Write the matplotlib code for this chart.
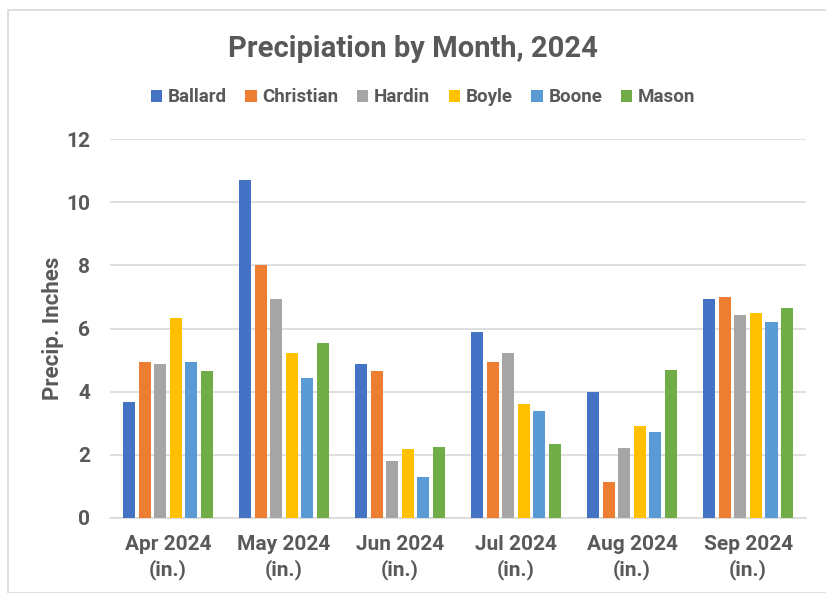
import numpy as np
import matplotlib
matplotlib.use('Agg')
import matplotlib.pyplot as plt
from matplotlib.patches import Rectangle

# Monthly precipitation by county, 2024 (inches)
months = ['Apr 2024\n(in.)', 'May 2024\n(in.)', 'Jun 2024\n(in.)',
          'Jul 2024\n(in.)', 'Aug 2024\n(in.)', 'Sep 2024\n(in.)']
ballard = [3.67, 10.70, 4.87, 5.89, 3.99, 6.93]
christian = [4.95, 8.00, 4.65, 4.94, 1.14, 7.00]
hardin = [4.87, 6.93, 1.80, 5.22, 2.22, 6.43]
boyle = [6.33, 5.22, 2.18, 3.61, 2.91, 6.49]
boone = [4.95, 4.43, 1.30, 3.39, 2.72, 6.21]
mason = [4.65, 5.54, 2.25, 2.34, 4.69, 6.65]

names = ['Ballard', 'Christian', 'Hardin', 'Boyle', 'Boone', 'Mason']
colors = ['#4472C4', '#ED7D31', '#A5A5A5', '#FFC000', '#5B9BD5', '#70AD47']
series = [ballard, christian, hardin, boyle, boone, mason]

txt = '#595959'
plt.rcParams['font.family'] = ['Roboto', 'DejaVu Sans']
plt.rcParams['font.weight'] = 'bold'
plt.rcParams['axes.labelweight'] = 'bold'

fig = plt.figure(figsize=(8.26, 5.93), dpi=100)
fig.patches.append(Rectangle((8 / 826, 0), 1, 1 - 10 / 593, transform=fig.transFigure,
                             fill=False, edgecolor='#D9D9D9', linewidth=1.2))
ax = fig.add_axes([0.133, 0.1265, 0.843, 0.639])

x = np.arange(len(months))
w = 0.104
step = 0.134
for i, (name, vals, c) in enumerate(zip(names, series, colors)):
    ax.bar(x + (i - 2.5) * step, vals, width=w, color=c, label=name, zorder=3)

ax.set_xlim(-0.5, 5.5)
ax.set_ylim(0, 12)
ax.set_yticks(range(0, 13, 2))
ax.set_xticks(x)
ax.set_xticklabels(months, linespacing=1.35)
ax.grid(axis='y', color='#D9D9D9', linewidth=1.2, zorder=0)
for s in ['top', 'right', 'left']:
    ax.spines[s].set_visible(False)
ax.spines['bottom'].set_color('#D9D9D9')
ax.spines['bottom'].set_linewidth(1.2)
ax.tick_params(axis='both', length=0, labelsize=15, labelcolor=txt)
ax.tick_params(axis='x', pad=12)
ax.tick_params(axis='y', pad=14)
ax.set_ylabel('Precip. Inches', fontsize=16, color=txt, labelpad=2)

fig.text(0.5, 0.918, 'Precipiation by Month, 2024', ha='center', va='center',
         fontsize=21, color=txt, fontweight='bold')
fig.legend(loc='center', bbox_to_anchor=(0.512, 0.836), ncol=6, frameon=False,
           fontsize=13.5, handlelength=0.6, handleheight=0.6, handletextpad=0.3,
           columnspacing=1.0, labelcolor=txt)

fig.savefig('out.png', dpi=100)
